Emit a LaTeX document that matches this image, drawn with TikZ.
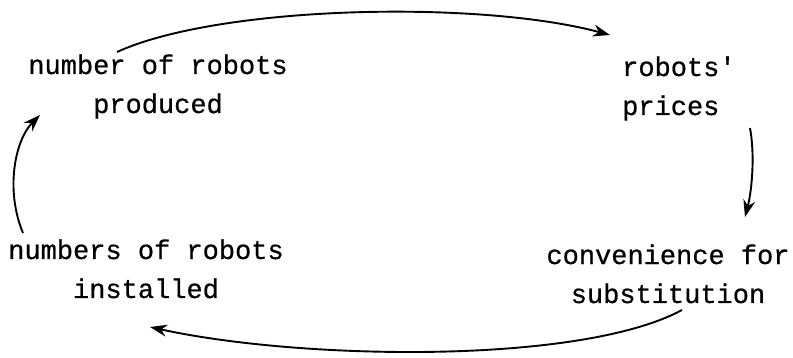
\documentclass[tikz,border=0pt]{standalone}
\usepackage{fontspec}
\setmonofont[FakeBold=0.6,AutoFakeBold=0.6]{Liberation Mono}
\usetikzlibrary{arrows.meta}
\tikzset{
  lbl/.style={font=\ttfamily\fontsize{27}{39}\selectfont, inner sep=0pt},
  conn/.style={line width=1.9pt, -{Stealth[length=17pt,width=12pt]}}
}
\begin{document}
\begin{tikzpicture}[x=1pt,y=-1pt]
\useasboundingbox[fill=white] (0,0) rectangle (793,358);
\node[lbl, align=center, anchor=base] (A) at (158,113) {number of robots\\produced};
\node[lbl, align=left, anchor=base west] (B) at (622,115) {robots'\\prices};
\node[lbl, align=center, anchor=base] (D) at (668,303) {convenience for\\substitution};
\node[lbl, align=center, anchor=base] (C) at (146,298) {numbers of robots\\installed};
\draw[conn] ([shift={(-41,-61)}]A.base) .. controls (220,5) and (480,0) .. ([shift={(-12,-80)}]B.base west);
\draw[conn] ([shift={(128,13)}]B.base west) .. controls (755,155) and (752,190) .. ([shift={(77,-86)}]D.base);
\draw[conn] ([shift={(14,7)}]D.base) .. controls (580,365) and (300,360) .. ([shift={(4,29)}]C.base);
\draw[conn] ([shift={(-123,-65)}]C.base) .. controls (5,190) and (15,140) .. ([shift={(-118,2)}]A.base);
\end{tikzpicture}
\end{document}
